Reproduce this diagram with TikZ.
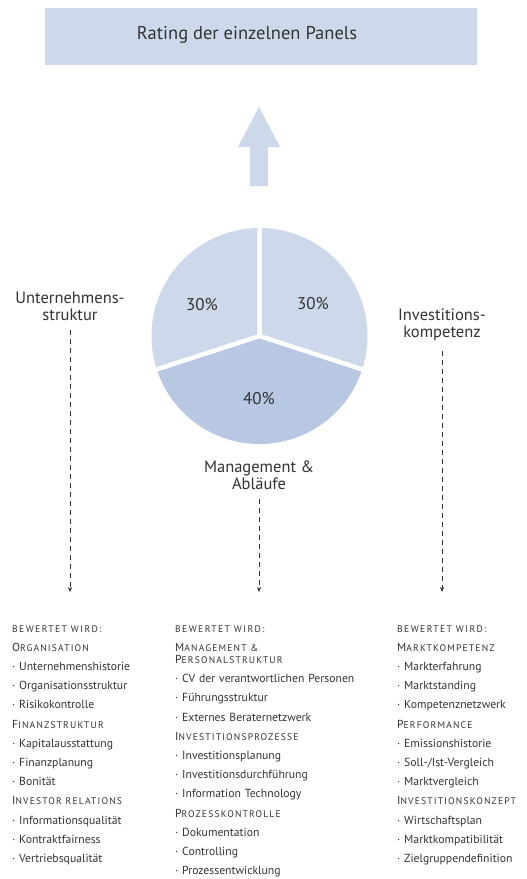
\documentclass[tikz,border=0pt]{standalone}
\usepackage{fontspec}
\setmainfont{PT Sans}
\usepackage{xcolor}
\usepackage{tikz}
\usetikzlibrary{arrows.meta, positioning, calc}
\definecolor{panel}{HTML}{CDD9EA}
\definecolor{panelmid}{HTML}{B8C8E3}
\definecolor{ink}{HTML}{333333}
% kapitaelchen: grosser Anfangsbuchstabe, Rest klein und gesperrt
\newcommand{\kap}[2]{{\fontsize{11.6}{19}\selectfont\addfontfeature{LetterSpace=10}#1}{\fontsize{9.6}{19}\selectfont\addfontfeature{LetterSpace=12}#2}}
\newcommand{\bew}{{\fontsize{9.6}{19}\selectfont\addfontfeature{LetterSpace=15}BEWERTET WIRD:}}

\begin{document}
\begin{tikzpicture}[x=1pt, y=-1pt, text=ink,
    label/.style={align=center, font=\fontsize{16.5}{17}\selectfont},
    prozent/.style={font=\fontsize{17}{17}\selectfont\addfontfeature{Numbers=OldStyle}},
    liste/.style={anchor=base west, align=left, text width=200pt, inner sep=0pt,
      font=\fontsize{11.7}{19.2}\selectfont},
    pfeil/.style={ink, line width=0.6pt, dash pattern=on 5pt off 4pt, -{Stealth[length=5pt, width=4pt]}}]
      \useasboundingbox (0,0) rectangle (527,879);

      % Kopf und Pfeil
      \node[fill=panel, minimum width=432pt, minimum height=57pt] (rating) at (261,36.5) {};
      \node[font=\fontsize{18.5}{19}\selectfont] (titel) at (247,35) {Rating der einzelnen Panels};
      \fill[panel] (259,107) -- (280,147) -- (268,147) -- (268,186) -- (250,186) -- (250,147) -- (238,147) -- cycle;

      % Kreisdiagramm (y nach unten, daher Winkel gespiegelt)
      \coordinate (mitte) at (259.5,336);
      \fill[panel] (mitte) -- ++(-90:108) arc (-90:18:108) -- cycle;
      \fill[panelmid] (mitte) -- ++(18:108) arc (18:162:108) -- cycle;
      \fill[panel] (mitte) -- ++(162:108) arc (162:270:108) -- cycle;
      \draw[white, line width=4.5pt] (mitte) -- ++(-90:110) (mitte) -- ++(18:110) (mitte) -- ++(162:110);
      \node[prozent] (links) at (202,305) {30\%};
      \node[prozent] (rechts) at (313,304) {30\%};
      \node[prozent] (unten) at (259,399) {40\%};

      % Bereiche
      \node[label] (unt) at (70,306) {Unternehmens-\\struktur};
      \node[label] (man) at (259,475) {Management \&\\Abläufe};
      \node[label] (inv) at (442,325) {Investitions-\\kompetenz};
      \coordinate (uend) at (70,592);
      \coordinate (mend) at (259,592);
      \coordinate (iend) at (442,592);
      \draw[pfeil, shorten <=6pt] (unt) -- (uend);
      \draw[pfeil, shorten <=6pt] (man) -- (mend);
      \draw[pfeil, shorten <=6pt] (inv) -- (iend);

      % Listen
      \node[liste] (listu) at (12,632) {\bew\\
        \kap{O}{RGANISATION}\\
        · Unternehmenshistorie\\
        · Organisationsstruktur\\
        · Risikokontrolle\\
        \kap{F}{INANZSTRUKTUR}\\
        · Kapitalausstattung\\
        · Finanzplanung\\
        · Bonität\\
        \kap{I}{NVESTOR RELATIONS}\\
        · Informationsqualität\\
        · Kontraktfairness\\
        · Vertriebsqualität};
      \node[liste] (listm) at (175,632) {\bew\\
        \kap{M}{ANAGEMENT \&}\\[-7pt]
        \kap{P}{ERSONALSTRUKTUR}\\
        · CV der verantwortlichen Personen\\
        · Führungsstruktur\\
        · Externes Beraternetzwerk\\
        \kap{I}{NVESTITIONSPROZESSE}\\
        · Investitionsplanung\\
        · Investitionsdurchführung\\
        · Information Technology\\
        \kap{P}{ROZESSKONTROLLE}\\
        · Dokumentation\\
        · Controlling\\
        · Prozessentwicklung};
      \node[liste] (listi) at (397,632) {\bew\\
        \kap{M}{ARKTKOMPETENZ}\\
        · Markterfahrung\\
        · Marktstanding\\
        · Kompetenznetzwerk\\
        \kap{P}{ERFORMANCE}\\
        · Emissionshistorie\\
        · Soll-/Ist-Vergleich\\
        · Marktvergleich\\
        \kap{I}{NVESTITIONSKONZEPT}\\
        · Wirtschaftsplan\\
        · Marktkompatibilität\\
        · Zielgruppendefinition};
    \end{tikzpicture}
\end{document}
